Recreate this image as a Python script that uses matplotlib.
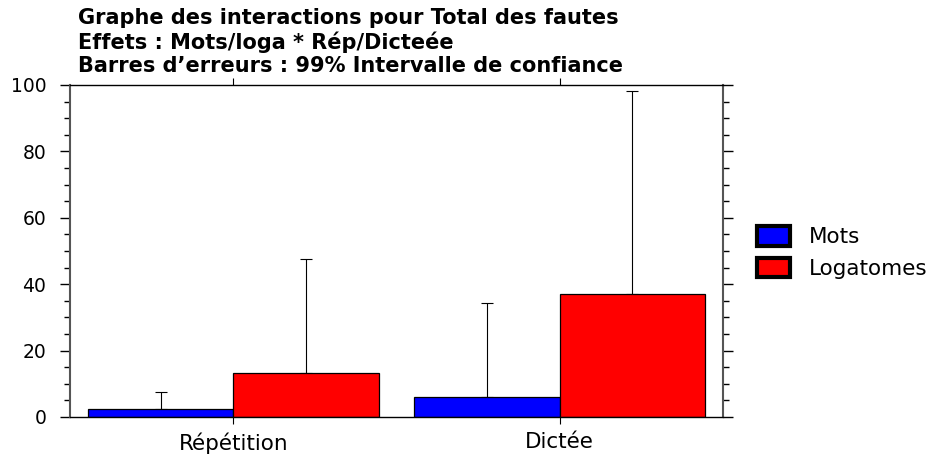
import matplotlib
matplotlib.use("Agg")
import matplotlib.pyplot as plt
import numpy as np
from matplotlib.patches import Patch
from matplotlib.ticker import MultipleLocator

plt.rcParams['font.family'] = ['DejaVu Sans']

categories = ["Répétition", "Dictée"]
series_names = ["Mots", "Logatomes"]
mots = [2.4, 6.0]
logatomes = [13.2, 37.0]
mots_err_top = [7.5, 34.3]
logatomes_err_top = [47.6, 98.2]
colors = ["#0000ff", "#ff0000"]
title_lines = ["Graphe des interactions pour Total des fautes",
               "Effets : Mots/loga * Rép/Dicteée",
               "Barres d\u2019erreurs : 99% Intervalle de confiance"]

fig = plt.figure(figsize=(9.3, 4.57), dpi=100)
ax = fig.add_axes([70/930, 1-417/457, (723-70)/930, (417-85)/457])

x = np.arange(len(categories))
w = 0.445
values = [mots, logatomes]
tops = [mots_err_top, logatomes_err_top]
for i, (vals, tp, c) in enumerate(zip(values, tops, colors)):
    pos = x - w/2 + i*w
    ax.bar(pos, vals, width=w, color=c, edgecolor='black', linewidth=0.9, zorder=2)
    err = np.array(tp) - np.array(vals)
    ax.errorbar(pos, vals, yerr=[np.zeros_like(err), err], fmt='none',
                ecolor='black', elinewidth=0.8, capsize=4, capthick=0.8, zorder=1)

ax.set_xlim(-0.5, 1.5)
ax.set_ylim(0, 100)
ax.set_xticks(x)
ax.set_xticklabels(categories, fontsize=15.5)
ax.yaxis.set_major_locator(MultipleLocator(20))
ax.yaxis.set_minor_locator(MultipleLocator(5))
ax.tick_params(axis='y', which='major', direction='out', length=7, width=1,
               labelsize=13.5, left=True, right=True, pad=10)
ax.tick_params(axis='y', which='minor', direction='out', length=4, width=1,
               left=True, right=True)
ax.tick_params(axis='x', which='major', direction='out', length=5, width=0.8,
               top=True, bottom=True, pad=6)
for s in ['left', 'right']:
    ax.spines[s].set_color('#555555')
    ax.spines[s].set_linewidth(1.5)
for s in ['top', 'bottom']:
    ax.spines[s].set_color('black')
    ax.spines[s].set_linewidth(1)

handles = [Patch(facecolor=c, edgecolor='black', linewidth=3) for c in colors]
fig.legend(handles, series_names, loc='upper left', bbox_to_anchor=(738/930, 1-207/457),
           frameon=False, fontsize=15.5, handlelength=1.5, handleheight=1.0,
           handletextpad=0.9, labelspacing=0.5)

for k, line in enumerate(title_lines):
    fig.text(78/930, 1-(18+24*k)/457, line, fontsize=15, fontweight='bold',
             ha='left', va='center')

fig.savefig("out.png", dpi=100)
